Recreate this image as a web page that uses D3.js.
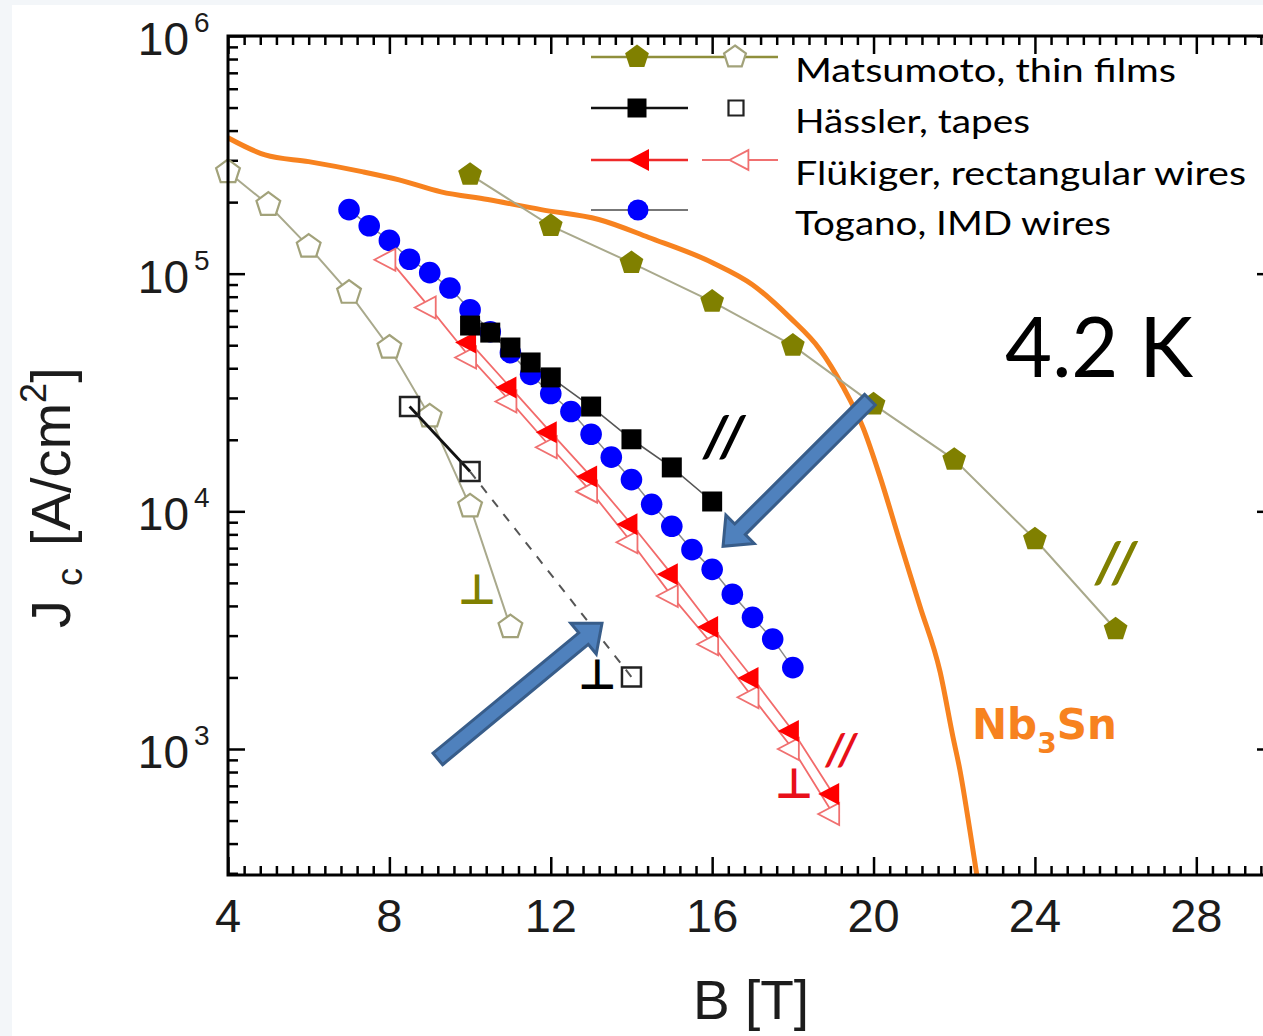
<!DOCTYPE html>
<html>
<head>
<meta charset="utf-8">
<script src="https://cdn.jsdelivr.net/npm/d3@7"></script>
<style>
  html, body { margin: 0; padding: 0; background: #ffffff; }
  svg { display: block; }
</style>
</head>
<body>
<svg id="chart" width="1263" height="1036"></svg>
<script>
// ---- Data: magnetic field B (T) and critical current density Jc (A/cm²) at 4.2 K ----
const matsumotoParB   = [10, 12, 14, 16, 18, 20, 22, 24, 26];
const matsumotoParJc  = [2.61e5, 1.59e5, 1.11e5, 7.63e4, 4.98e4, 2.82e4, 1.65e4, 7.63e3, 3.19e3];
const matsumotoPerpB  = [4, 5, 6, 7, 8, 9, 10, 11];
const matsumotoPerpJc = [2.68e5, 1.95e5, 1.30e5, 8.32e4, 4.89e4, 2.51e4, 1.05e4, 3.26e3];

const hasslerParB   = [10, 10.5, 11, 11.5, 12, 13, 14, 15, 16];
const hasslerParJc  = [6.05e4, 5.65e4, 4.89e4, 4.23e4, 3.66e4, 2.76e4, 2.01e4, 1.53e4, 1.10e4];
const hasslerPerpB  = [8.5, 10, 14];
const hasslerPerpJc = [2.76e4, 1.47e4, 2.01e3];

const flukigerParB   = [10, 11, 12, 13, 14, 15, 16, 17, 18, 19];
const flukigerParJc  = [5.13e4, 3.32e4, 2.15e4, 1.40e4, 8.82e3, 5.43e3, 3.26e3, 1.99e3, 1.19e3, 647];
const flukigerPerpB  = [8, 9, 10, 11, 12, 13, 14, 15, 16, 17, 18, 19];
const flukigerPerpJc = [1.145e5, 7.20e4, 4.44e4, 2.90e4, 1.86e4, 1.21e4, 7.41e3, 4.40e3, 2.76e3, 1.65e3, 1.0e3, 533];

const toganoB  = [7, 7.5, 8, 8.5, 9, 9.5, 10, 10.5, 11, 11.5, 12, 12.5, 13, 13.5, 14, 14.5, 15, 15.5, 16, 16.5, 17, 17.5, 18];
const toganoJc = [1.86e5, 1.59e5, 1.38e5, 1.15e5, 1.01e5, 8.7e4, 7.05e4, 5.7e4, 4.65e4, 3.77e4, 3.13e4, 2.63e4,
                  2.11e4, 1.69e4, 1.36e4, 1.07e4, 8.65e3, 6.9e3, 5.7e3, 4.48e3, 3.58e3, 2.9e3, 2.2e3];

const nb3snB  = [4, 4.92, 6.0, 7.35, 8.24, 9.28, 10.44, 11.76, 13.19, 14.43, 16.02, 17.0, 17.93, 18.67, 19.24,
                 19.74, 20.16, 20.65, 21.15, 21.65, 21.97, 22.14, 22.39, 22.56];
const nb3snJc = [3.73e5, 3.16e5, 2.96e5, 2.68e5, 2.48e5, 2.21e5, 2.05e5, 1.86e5, 1.69e5, 1.42e5, 1.11e5, 8.99e4,
                 6.53e4, 4.80e4, 3.35e4, 2.25e4, 1.40e4, 7.48e3, 3.99e3, 2.11e3, 1.12e3, 817, 452, 295];

// ---- Axis ticks ----
const xMajorTicks = [4, 8, 12, 16, 20, 24, 28];
const xTickLabels = ["4", "8", "12", "16", "20", "24", "28"];
const yMajorTicks = [1e3, 1e4, 1e5, 1e6];
const yTickExponents = ["3", "4", "5", "6"];

// ---- Legend ----
const legendLabels = ["Matsumoto, thin films", "Hässler, tapes", "Flükiger, rectangular wires", "Togano, IMD wires"];
const legendTextWidths = [381, 235, 451, 316];

// ---- Annotations (data coordinates) ----
const arrowTailB = [19.91, 9.20];
const arrowTailJc = [2.95e4, 908];
const arrowTipB = [16.27, 13.27];
const arrowTipJc = [7.13e3, 3.38e3];

// ---- Styles ----
const OLIVE = "#808000", OLIVE_LINE = "#a9a98c", OPEN_OLIVE = "#a2a27a";
const RED = "#ff0000", RED_LINE = "#f26b6b", RED_OPEN = "#f07070";
const BLUE = "#0000ff", ORANGE = "#f7821f";
const AXIS_FONT = "'Liberation Sans', Arial, sans-serif";
const TEXT_FONT = "Lato, 'Open Sans', sans-serif";
const PERP_FONT = "'DejaVu Sans', sans-serif";

const svg = d3.select("#chart");
const W = 1263, H = 1036;

// faint page tint around the figure
svg.append("rect").attr("width", W).attr("height", H).attr("fill", "#f3f6f9");
svg.append("rect").attr("x", 12).attr("y", 5).attr("width", W - 12).attr("height", H - 5).attr("fill", "#ffffff");

const x = d3.scaleLinear().domain([4, 30]).range([228, 1277]);
const y = d3.scaleLog().domain([295, 1e6]).range([875, 36]);

const plotL = x(4), plotR = x(30), plotT = y(1e6), plotB = y(295);

svg.append("clipPath").attr("id", "plotClip")
  .append("rect").attr("x", plotL).attr("y", plotT).attr("width", plotR - plotL).attr("height", plotB - plotT);

// ---- Ticks (all pointing inward) ----
const xMinor = d3.range(0, 66).map(i => 4 + i * 0.4).filter(v => xMajorTicks.every(m => Math.abs(m - v) > 1e-6));
const yMinor = [];
[2, 3, 4, 5].forEach(d => { for (let m = 2; m <= 9; m++) { const v = m * Math.pow(10, d); if (v >= 295 && v < 1e6) yMinor.push(v); } });

function styleAxis(g) {
  g.select(".domain").remove();
  g.selectAll("line").attr("stroke", "#000").attr("stroke-width", 2.5);
  g.selectAll("text").remove();
}
const axes = svg.append("g");
axes.append("g").attr("transform", `translate(0,${plotB})`).call(d3.axisBottom(x).tickValues(xMajorTicks).tickSize(-18)).call(styleAxis);
axes.append("g").attr("transform", `translate(0,${plotB})`).call(d3.axisBottom(x).tickValues(xMinor).tickSize(-9)).call(styleAxis);
axes.append("g").attr("transform", `translate(0,${plotT})`).call(d3.axisTop(x).tickValues(xMajorTicks).tickSize(-18)).call(styleAxis);
axes.append("g").attr("transform", `translate(0,${plotT})`).call(d3.axisTop(x).tickValues(xMinor).tickSize(-9)).call(styleAxis);
axes.append("g").attr("transform", `translate(${plotL},0)`).call(d3.axisLeft(y).tickValues(yMajorTicks).tickSize(-17)).call(styleAxis);
axes.append("g").attr("transform", `translate(${plotL},0)`).call(d3.axisLeft(y).tickValues(yMinor).tickSize(-10)).call(styleAxis);
axes.append("g").attr("transform", `translate(${plotR},0)`).call(d3.axisRight(y).tickValues(yMajorTicks).tickSize(-20)).call(styleAxis);
axes.append("g").attr("transform", `translate(${plotR},0)`).call(d3.axisRight(y).tickValues(yMinor).tickSize(-10)).call(styleAxis);

// ---- Tick labels ----
svg.append("g").selectAll("text").data(xMajorTicks).join("text")
  .attr("x", d => x(d)).attr("y", plotB + 57)
  .attr("text-anchor", "middle").attr("font-family", AXIS_FONT).attr("font-size", 47).attr("fill", "#1c1c1c")
  .text((d, i) => xTickLabels[i]);

const yLab = svg.append("g").selectAll("g").data(yMajorTicks).join("g");
yLab.append("text")
  .attr("x", 189).attr("y", d => y(d) + 19)
  .attr("text-anchor", "end").attr("font-family", AXIS_FONT).attr("font-size", 46).attr("fill", "#1c1c1c")
  .text("10");
yLab.append("text")
  .attr("x", 194).attr("y", d => y(d) - 4)
  .attr("font-family", AXIS_FONT).attr("font-size", 28).attr("fill", "#1c1c1c")
  .text((d, i) => yTickExponents[i]);

// ---- Axis titles ----
svg.append("text").attr("x", 751).attr("y", 1019).attr("text-anchor", "middle")
  .attr("font-family", AXIS_FONT).attr("font-size", 55).attr("fill", "#1c1c1c").text("B [T]");

const yTitle = svg.append("text").attr("transform", "translate(70,628) rotate(-90)")
  .attr("font-family", AXIS_FONT).attr("font-size", 56).attr("fill", "#1c1c1c");
yTitle.append("tspan").text("J");
yTitle.append("tspan").attr("font-size", 36).attr("dx", 14).attr("dy", 12).text("c");
yTitle.append("tspan").attr("dx", 22).attr("dy", -12).text("[A/cm");
yTitle.append("tspan").attr("font-size", 36).attr("dy", -24).text("2");
yTitle.append("tspan").attr("dy", 24).text("]");

// ---- Marker shapes ----
function pentagonPath(r) {
  const p = d3.path();
  for (let k = 0; k < 5; k++) {
    const a = -Math.PI / 2 + k * 2 * Math.PI / 5;
    const px = r * Math.cos(a), py = r * Math.sin(a);
    if (k === 0) p.moveTo(px, py); else p.lineTo(px, py);
  }
  p.closePath();
  return p.toString();
}
function leftTrianglePath(s) {
  const p = d3.path();
  p.moveTo(-15 * s, 0); p.lineTo(6 * s, -11 * s); p.lineTo(6 * s, 11 * s); p.closePath();
  return p.toString();
}
function squarePath(a) {
  const p = d3.path(); p.rect(-a / 2, -a / 2, a, a); return p.toString();
}

const line = d3.line().x(d => x(d[0])).y(d => y(d[1]));
const zip = (bs, js) => bs.map((b, i) => [b, js[i]]);

const plot = svg.append("g").attr("clip-path", "url(#plotClip)");
const marks = svg.append("g");

// Nb3Sn reference curve
plot.append("path").datum(zip(nb3snB, nb3snJc))
  .attr("d", d3.line().curve(d3.curveMonotoneX).x(d => x(d[0])).y(d => y(d[1])))
  .attr("fill", "none").attr("stroke", ORANGE).attr("stroke-width", 5).attr("stroke-linejoin", "round");

function drawSeries(pts, opts) {
  const g = marks.append("g");
  if (opts.line) {
    g.append("path").datum(pts).attr("d", line).attr("fill", "none")
      .attr("stroke", opts.line).attr("stroke-width", opts.lineWidth || 2);
  }
  g.selectAll("path.m").data(pts).join("path").attr("class", "m")
    .attr("transform", d => `translate(${x(d[0])},${y(d[1])})`)
    .attr("d", opts.shape)
    .attr("fill", opts.fill).attr("stroke", opts.stroke || "none").attr("stroke-width", opts.strokeWidth || 0);
  return g;
}

// Matsumoto, thin films
drawSeries(zip(matsumotoPerpB, matsumotoPerpJc), { line: OLIVE_LINE, lineWidth: 2, shape: pentagonPath(12.5), fill: "#ffffff", stroke: OPEN_OLIVE, strokeWidth: 2.2 });
drawSeries(zip(matsumotoParB, matsumotoParJc), { line: OLIVE_LINE, lineWidth: 2, shape: pentagonPath(12.5), fill: OLIVE });

// Togano, IMD wires
drawSeries(zip(toganoB, toganoJc), { line: "#8a8a8a", lineWidth: 1.5, shape: d3.symbol().type(d3.symbolCircle).size(Math.PI * 10.8 * 10.8)(), fill: BLUE });

// Flükiger, rectangular wires
drawSeries(zip(flukigerPerpB, flukigerPerpJc), { line: RED_LINE, lineWidth: 1.8, shape: leftTrianglePath(1), fill: "#ffffff", stroke: RED_OPEN, strokeWidth: 1.8 });
drawSeries(zip(flukigerParB, flukigerParJc), { line: RED_LINE, lineWidth: 1.8, shape: leftTrianglePath(1), fill: RED });

// Hässler, tapes
const hPerp = zip(hasslerPerpB, hasslerPerpJc);
marks.append("path").datum(hPerp.slice(0, 2)).attr("d", line).attr("fill", "none").attr("stroke", "#111").attr("stroke-width", 2.8);
marks.append("path").datum(hPerp.slice(1, 3)).attr("d", line).attr("fill", "none").attr("stroke", "#555").attr("stroke-width", 2).attr("stroke-dasharray", "9,9");
drawSeries(hPerp, { shape: squarePath(19), fill: "none", stroke: "#222", strokeWidth: 2.5 });
drawSeries(zip(hasslerParB, hasslerParJc), { line: "#555", lineWidth: 1.6, shape: squarePath(20), fill: "#000" });

// ---- Field-orientation labels ----
const notes = svg.append("g");
function note(b, jc, txt, color, size, opts) {
  notes.append("text").attr("x", x(b)).attr("y", y(jc) + size * opts.shift)
    .attr("text-anchor", "middle").attr("font-family", opts.font)
    .attr("font-style", opts.italic ? "italic" : "normal")
    .attr("font-weight", opts.weight || "normal")
    .attr("letter-spacing", opts.spacing || 0)
    .attr("font-size", size).attr("fill", color).text(txt);
}
const slashOpts = { font: TEXT_FONT, italic: true, weight: "bold", shift: 0.36, spacing: 4 };
const perpOpts = { font: PERP_FONT, weight: "bold", shift: 0.36 };
note(16.34, 2.07e4, "//", "#000", 58, slashOpts);
note(26.06, 6.11e3, "//", OLIVE, 58, slashOpts);
note(19.24, 1.0e3, "//", "#e8101a", 44, { ...slashOpts, spacing: 3 });
note(18.03, 720, "⊥", "#e8101a", 42, perpOpts);
note(10.17, 4.74e3, "⊥", OLIVE, 42, perpOpts);
note(13.15, 2.08e3, "⊥", "#000", 42, perpOpts);

// temperature and conductor labels
svg.append("text").attr("x", x(23.26)).attr("y", y(3.69e4))
  .attr("font-family", TEXT_FONT).attr("font-size", 84).attr("fill", "#000")
  .attr("textLength", 188).attr("lengthAdjust", "spacingAndGlyphs").text("4.2 K");

const nbLabel = svg.append("text").attr("x", x(22.44)).attr("y", y(1.10e3))
  .attr("font-family", "'DejaVu Sans', Verdana, sans-serif").attr("font-weight", "bold")
  .attr("font-size", 42).attr("fill", ORANGE);
nbLabel.append("tspan").text("Nb");
nbLabel.append("tspan").attr("font-size", 28).attr("dy", 14).text("3");
nbLabel.append("tspan").attr("dy", -14).text("Sn");

// ---- Legend ----
const legend = svg.append("g");
const rowsY = [57, 108, 160, 210];
// row 1: Matsumoto
legend.append("line").attr("x1", 591).attr("x2", 778).attr("y1", rowsY[0]).attr("y2", rowsY[0]).attr("stroke", "#8f8f3c").attr("stroke-width", 2.5);
legend.append("path").attr("transform", `translate(637,${rowsY[0]})`).attr("d", pentagonPath(12.5)).attr("fill", OLIVE);
legend.append("path").attr("transform", `translate(735,${rowsY[0]})`).attr("d", pentagonPath(11.5)).attr("fill", "#fff").attr("stroke", OPEN_OLIVE).attr("stroke-width", 2.2);
// row 2: Hässler
legend.append("line").attr("x1", 591).attr("x2", 688).attr("y1", rowsY[1]).attr("y2", rowsY[1]).attr("stroke", "#111").attr("stroke-width", 2.5);
legend.append("path").attr("transform", `translate(637,${rowsY[1]})`).attr("d", squarePath(19)).attr("fill", "#000");
legend.append("path").attr("transform", `translate(736,${rowsY[1]})`).attr("d", squarePath(15)).attr("fill", "none").attr("stroke", "#222").attr("stroke-width", 2.2);
// row 3: Flükiger
legend.append("line").attr("x1", 591).attr("x2", 688).attr("y1", rowsY[2]).attr("y2", rowsY[2]).attr("stroke", "#ee2a2a").attr("stroke-width", 2.5);
legend.append("line").attr("x1", 702).attr("x2", 778).attr("y1", rowsY[2]).attr("y2", rowsY[2]).attr("stroke", RED_OPEN).attr("stroke-width", 2.2);
legend.append("path").attr("transform", `translate(643,${rowsY[2]})`).attr("d", leftTrianglePath(1)).attr("fill", RED);
legend.append("path").attr("transform", `translate(743,${rowsY[2]})`).attr("d", leftTrianglePath(0.9)).attr("fill", "#fff").attr("stroke", RED_OPEN).attr("stroke-width", 1.8);
// row 4: Togano
legend.append("line").attr("x1", 591).attr("x2", 688).attr("y1", rowsY[3]).attr("y2", rowsY[3]).attr("stroke", "#777").attr("stroke-width", 2);
legend.append("circle").attr("cx", 638).attr("cy", rowsY[3]).attr("r", 10.5).attr("fill", BLUE);

legend.selectAll("text").data(legendLabels).join("text")
  .attr("x", 795).attr("y", (d, i) => rowsY[i] + 25)
  .attr("font-family", TEXT_FONT).attr("font-size", 33).attr("fill", "#000")
  .attr("textLength", (d, i) => legendTextWidths[i]).attr("lengthAdjust", "spacingAndGlyphs")
  .text(d => d);

// ---- Frame ----
svg.append("rect").attr("x", plotL).attr("y", plotT).attr("width", plotR - plotL).attr("height", plotB - plotT)
  .attr("fill", "none").attr("stroke", "#000").attr("stroke-width", 3);

// ---- Block arrows ----
function blockArrowPath(x0, y0, x1, y1, shaftW, headL, headW) {
  const dx = x1 - x0, dy = y1 - y0, len = Math.hypot(dx, dy);
  const ux = dx / len, uy = dy / len, nx = -uy, ny = ux;
  const bx = x1 - ux * headL, by = y1 - uy * headL;
  const p = d3.path();
  p.moveTo(x0 + nx * shaftW / 2, y0 + ny * shaftW / 2);
  p.lineTo(bx + nx * shaftW / 2, by + ny * shaftW / 2);
  p.lineTo(bx + nx * headW / 2, by + ny * headW / 2);
  p.lineTo(x1, y1);
  p.lineTo(bx - nx * headW / 2, by - ny * headW / 2);
  p.lineTo(bx - nx * shaftW / 2, by - ny * shaftW / 2);
  p.lineTo(x0 - nx * shaftW / 2, y0 - ny * shaftW / 2);
  p.closePath();
  return p.toString();
}
svg.append("g").selectAll("path").data(arrowTailB).join("path")
  .attr("d", (d, i) => blockArrowPath(x(arrowTailB[i]), y(arrowTailJc[i]), x(arrowTipB[i]), y(arrowTipJc[i]), 15, 24, 40))
  .attr("fill", "#4f81bd").attr("stroke", "#385d8a").attr("stroke-width", 3).attr("stroke-linejoin", "miter");
</script>
</body>
</html>
